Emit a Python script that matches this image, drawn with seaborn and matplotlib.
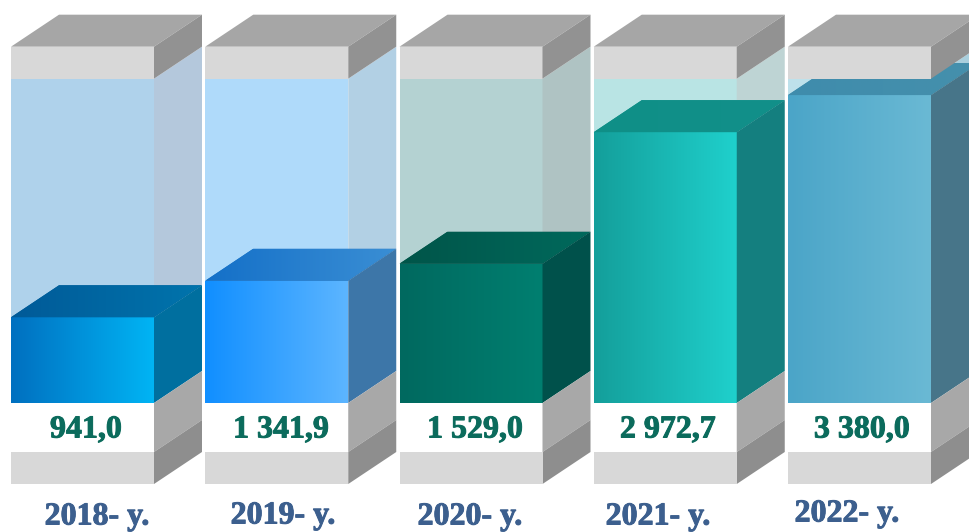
import numpy as np
import pandas as pd
import seaborn as sns
import matplotlib.pyplot as plt
import matplotlib.patheffects as pe
from matplotlib.colors import to_rgb
from matplotlib.patches import Polygon

years = ["2018- y.", "2019- y.", "2020- y.", "2021- y.", "2022- y."]
values = [941.0, 1341.9, 1529.0, 2972.7, 3380.0]
value_labels = ["941,0", "1 341,9", "1 529,0", "2 972,7", "3 380,0"]
capacity = [3560, 3560, 3560, 3560, 3560]

front_left = ["#0070c0", "#118fff", "#00695f", "#149f9b", "#4ba5c8"]
front_right = ["#00b4f4", "#5cb5ff", "#007f70", "#1fd0cc", "#6ab9d4"]
top_left = ["#005a98", "#1470c8", "#005549", "#0f8f87", "#3f8cac"]
top_right = ["#0074ac", "#3a8ed4", "#00695c", "#12908a", "#4590ac"]
side_col = ["#006f9f", "#3d76a8", "#00514b", "#147f7f", "#477589"]
glass_front = ["#afd2eb", "#afdafa", "#b4d2d2", "#b9e4e4", "#bee1eb"]
glass_side = ["#b4c8dc", "#b2d0e4", "#afc3c3", "#bed4d4", "#a9cfdd"]

sns.set_theme(style="white")
plt.rcParams["font.family"] = ["Liberation Serif", "DejaVu Serif"]

# pixel scale of the picture: bars 194.25 px apart, 0.0911 px per unit
PX_X = 194.25
PX_Y = 0.0911
DX = 48 / PX_X
DY = 32 / PX_Y
BAND_TOP = 32 / PX_Y
BAND_WHITE = 49 / PX_Y


def to_x(px):
    return (px - 82.5) / PX_X


def to_y(px):
    return (403 - px) / PX_Y


def face(ax, pts, color, z):
    p = Polygon(pts, closed=True, facecolor=color, edgecolor="none", zorder=z)
    ax.add_patch(p)
    return p


def gradient(ax, patch, c0, c1, z):
    ramp = np.linspace(to_rgb(c0), to_rgb(c1), 64)[None, :, :]
    ext = patch.get_path().get_extents(patch.get_patch_transform())
    im = ax.imshow(ramp, extent=[ext.x0, ext.x1, ext.y0, ext.y1], aspect="auto",
                   interpolation="bilinear", zorder=z)
    im.set_clip_path(patch)


fig = plt.figure(figsize=(9.7, 5.32), dpi=100, facecolor="white")
ax = fig.add_axes([0, 0, 1, 1])

df = pd.DataFrame({"year": years, "value": values, "capacity": capacity})
sns.barplot(data=df, x="year", y="capacity", hue="year", palette=glass_front,
            width=143 / PX_X, saturation=1, legend=False, ax=ax, zorder=1, linewidth=0)
n_glass = len(ax.containers)
sns.barplot(data=df, x="year", y="value", hue="year", palette=front_left,
            width=143 / PX_X, saturation=1, legend=False, ax=ax, zorder=3, linewidth=0)

for i in range(len(years)):
    glass = ax.containers[i][0]
    bar = ax.containers[n_glass + i][0]
    x0 = bar.get_x()
    x1 = x0 + bar.get_width()
    h = bar.get_height()
    cap = glass.get_height()

    # glass side
    face(ax, [(x1, h), (x1 + DX, h + DY), (x1 + DX, cap + DY), (x1, cap)], glass_side[i], 2)

    # filled block
    gradient(ax, bar, front_left[i], front_right[i], 3.5)
    top = face(ax, [(x0, h), (x0 + DX, h + DY), (x1 + DX, h + DY), (x1, h)], top_left[i], 4)
    gradient(ax, top, top_left[i], top_right[i], 4.5)
    face(ax, [(x1, 0), (x1 + DX, DY), (x1 + DX, h + DY), (x1, h)], side_col[i], 5)

    # grey lid
    face(ax, [(x0, cap), (x1, cap), (x1, cap + BAND_TOP), (x0, cap + BAND_TOP)], "#d8d8d8", 6)
    face(ax, [(x0, cap + BAND_TOP), (x0 + DX, cap + BAND_TOP + DY),
              (x1 + DX, cap + BAND_TOP + DY), (x1, cap + BAND_TOP)], "#a6a6a6", 6)
    face(ax, [(x1, cap), (x1 + DX, cap + DY), (x1 + DX, cap + BAND_TOP + DY),
              (x1, cap + BAND_TOP)], "#929292", 6)

    # base: white band and grey foot
    face(ax, [(x1, 0), (x1 + DX, DY), (x1 + DX, DY - BAND_WHITE), (x1, -BAND_WHITE)], "#a8a8a8", 6)
    face(ax, [(x1, -BAND_WHITE), (x1 + DX, DY - BAND_WHITE),
              (x1 + DX, DY - BAND_WHITE - BAND_TOP), (x1, -BAND_WHITE - BAND_TOP)], "#8e8e8e", 6)
    face(ax, [(x0, -BAND_WHITE), (x1, -BAND_WHITE), (x1, -BAND_WHITE - BAND_TOP),
              (x0, -BAND_WHITE - BAND_TOP)], "#d8d8d8", 6)

label_x = [86, 281, 475, 668, 862]
year_x = [97, 283, 470, 658, 847]
year_y = [517, 516, 517, 517, 514]
heavy = [pe.withStroke(linewidth=0.7, foreground="#0b6b5c")]
heavy2 = [pe.withStroke(linewidth=0.7, foreground="#3c5f8e")]
for i in range(len(years)):
    ax.text(to_x(label_x[i]), to_y(430), value_labels[i], ha="center", va="center",
            fontsize=23, fontweight="bold", color="#0b6b5c", zorder=7, path_effects=heavy)
    ax.text(to_x(year_x[i]), to_y(year_y[i]), years[i], ha="center", va="center",
            fontsize=23, fontweight="bold", color="#3c5f8e", zorder=7, path_effects=heavy2)

ax.set_xlim(to_x(0), to_x(970))
ax.set_ylim(to_y(532), to_y(0))
ax.axis("off")

fig.savefig("out.png", dpi=100, facecolor="white")
